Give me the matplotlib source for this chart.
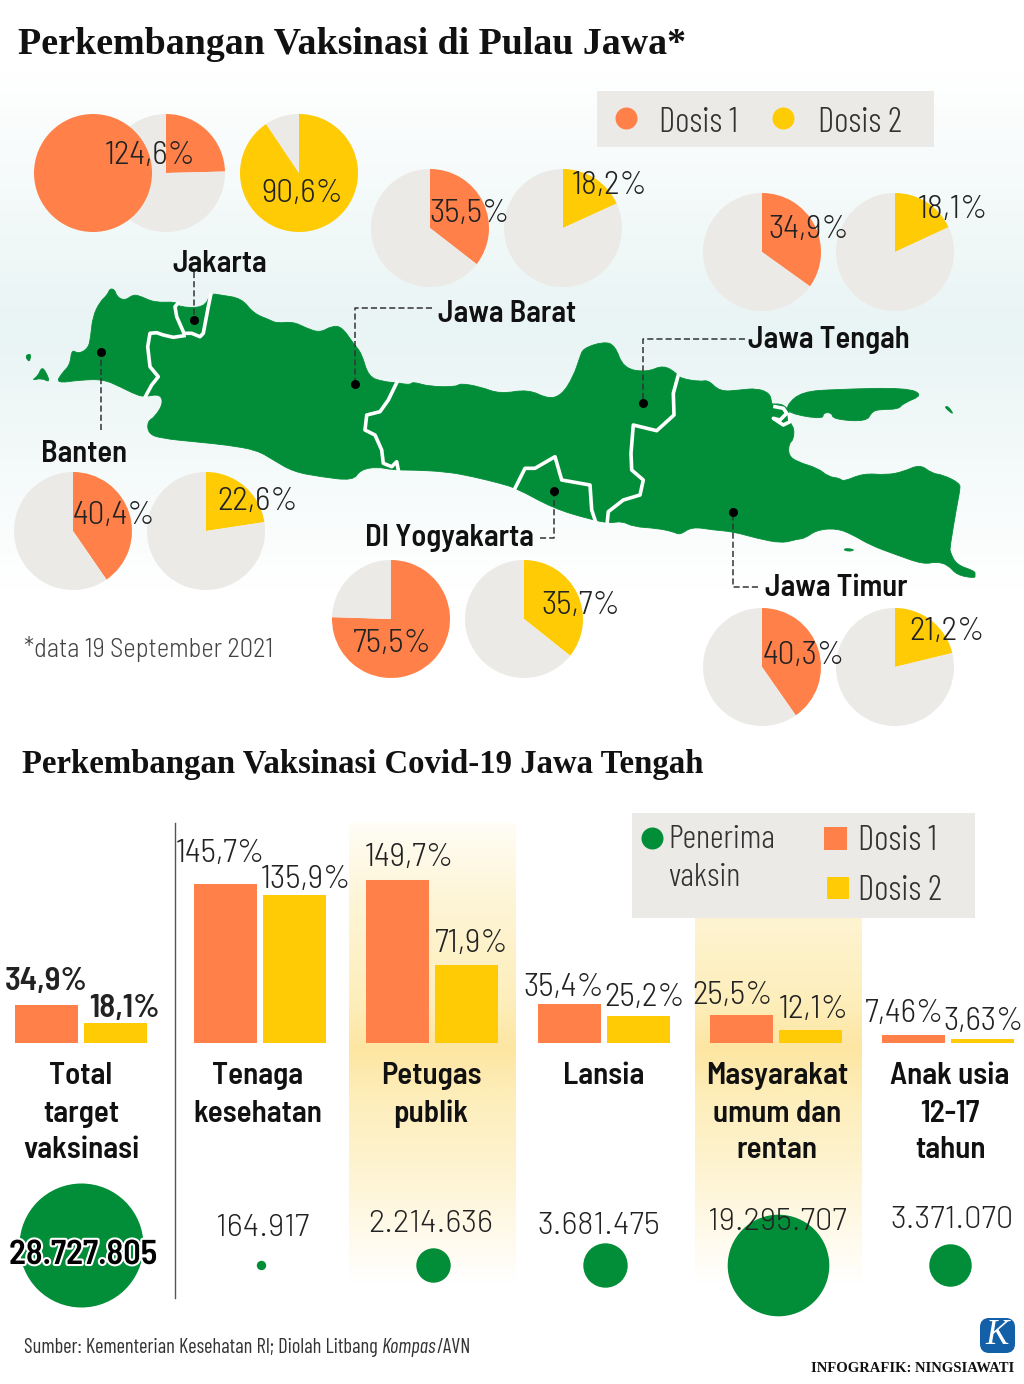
import numpy as np
import matplotlib
matplotlib.use('Agg')
import matplotlib.pyplot as plt
import matplotlib.patheffects as pe
from matplotlib.colors import LinearSegmentedColormap
from matplotlib.patches import FancyBboxPatch, PathPatch, Rectangle
from matplotlib.path import Path

W, H = 1024, 1384
ORANGE = '#ff8149'
YELLOW = '#ffcb05'
GREY = '#ebeae6'
GREEN = '#028e38'
INK = '#222222'
NARROW = ['Barlow Condensed', 'Archivo Narrow', 'Roboto', 'DejaVu Sans']
SEMI = ['Barlow Semi Condensed', 'Archivo Narrow', 'Roboto', 'DejaVu Sans']
WIDE = ['Barlow', 'Roboto', 'DejaVu Sans']
SERIF = ['Liberation Serif', 'DejaVu Serif']
LIGHT = 300
HEAVY = 600

# pie values, percent
provinces = ['Jakarta', 'Jawa Barat', 'Jawa Tengah', 'Banten', 'DI Yogyakarta', 'Jawa Timur']
dose1_pct = [124.6, 35.5, 34.9, 40.4, 75.5, 40.3]
dose2_pct = [90.6, 18.2, 18.1, 22.6, 35.7, 21.2]
pie_centers = [(166, 173), (430, 228), (762, 252), (73, 531), (391, 619), (762, 667)]
pie_gap = 133
pie_radius = 59
dose1_label_pos = [(150, 153), (470, 211), (809, 227), (114, 514), (392, 641), (804, 654)]
dose2_label_pos = [(302, 191), (610, 184), (953, 207), (258, 499), (581, 603), (947, 630)]

# bar values, percent
groups = ['Total\ntarget\nvaksinasi', 'Tenaga\nkesehatan', 'Petugas\npublik', 'Lansia',
          'Masyarakat\numum dan\nrentan', 'Anak usia\n12-17\ntahun']
bar_dose1 = [34.9, 145.7, 149.7, 35.4, 25.5, 7.46]
bar_dose2 = [18.1, 135.9, 71.9, 25.2, 12.1, 3.63]
bar_dose1_text = ['34,9%', '145,7%', '149,7%', '35,4%', '25,5%', '7,46%']
bar_dose2_text = ['18,1%', '135,9%', '71,9%', '25,2%', '12,1%', '3,63%']
recipients = [28727805, 164917, 2214636, 3681475, 19295707, 3371070]
recipients_text = ['28.727.805', '164.917', '2.214.636', '3.681.475', '19.295.707', '3.371.070']

group_left = [15, 194, 366, 538, 710, 882]
group_center = [81, 258, 431, 604, 777, 950]
bar_width = 62.5
bar_step = 69
bar_base = 1043
px_per_pct = 1.09
d1_text_pos = [(46, 979), (220, 852), (409, 855), (564, 985), (732, 993), (904, 1011)]
d2_text_pos = [(124, 1006), (306, 878), (472, 942), (645, 995), (814, 1008), (984, 1020)]
bubble_pos = [(81, 1245), (261, 1265), (433, 1265), (605, 1265), (778, 1265), (950, 1265)]
value_text_pos = [(83, 1253), (263, 1226), (431, 1222), (599, 1224), (777, 1220), (952, 1217)]
max_bubble_r = 62

# map outline, picture pixels
java_x = [56, 61.7, 70, 71.7, 78.3, 88.3, 90.7, 92.7, 100, 107.3, 110, 115, 116.7, 125, 133.3, 141.7, 155, 176.7,
          178, 204, 210.7, 220, 241.7, 253.3, 270, 276.7, 293.3, 306.7, 320, 331.7, 341.7, 353.3, 361.7, 368.3,
          383.3, 396.7, 410, 412.7, 430, 456.7, 460, 480, 500, 528.3, 548.3, 561.7, 573.3, 580, 583.3, 603.3, 615,
          623.3, 646.7, 663.3, 676.7, 680, 700, 708.3, 720, 740, 756.7, 770, 771.7, 771.7, 783, 790, 790, 794.3,
          793.3, 789, 788.3, 796.7, 818.3, 828.3, 840, 843.3, 863.3, 886.7, 903.3, 920, 931.7, 943.3, 960, 960,
          956.7, 950, 950, 956.7, 975, 975, 975, 956.7, 948.3,
          936.7, 923.3, 896.7, 870, 853.3, 836.7, 816.7, 805, 796.7, 781.7, 756.7, 733.3, 713.3, 691.7, 680,
          673.3, 656.7, 633.3, 621.7, 610, 590, 553.3, 516.7, 500, 473.3, 446.7, 413.3, 393.3, 376.7, 360, 353.3,
          320, 293.3, 273.3, 256.7, 226.7, 200, 160, 148.3, 147.3, 155, 163.3, 160, 145, 136.7, 120, 103.3, 80]
java_y = [383.3, 373.3, 365, 349.3, 354, 348.3, 336.7, 316.7, 301.7, 295, 288.3, 290, 296.7, 300.7, 294.3, 296.7,
          302.7, 301.7, 307, 308, 293.3, 295, 298.3, 313.3, 320, 323.3, 321.7, 328.3, 332.7, 326, 326.7, 343.3,
          353.3, 376.7, 381.7, 382.7, 385, 381.7, 386.7, 386.7, 383.3, 386.7, 394, 389.3, 399, 395, 376.7, 356.7,
          348.3, 341.7, 345, 368.3, 372.3, 365, 373.3, 378.3, 381.7, 380, 391.7, 390, 388.3, 393.3, 403.3, 404,
          404, 412, 423.3, 428.3, 440, 443.3, 455, 461.7, 468.3, 476.7, 478.3, 481.7, 473.3, 475, 471.7, 464.3,
          473.3, 475, 483.3, 490, 506.7, 546.7, 552, 565, 571, 575, 578.3, 575, 565, 561.7, 564.3, 555, 545, 535,
          528.3, 530, 538.3, 539.3, 543.3, 538.3, 531.7, 530, 526.7, 535,
          531.7, 528.3, 526.7, 521, 523.3, 519.3, 508.3, 488.3, 483.3, 476.7, 471.7, 470, 470, 466.7, 470, 480.7,
          476.7, 471.7, 460, 450, 445, 442.3, 438.3, 433.3, 421.7, 416.7, 403.3, 394, 396.7, 395, 386.7, 379.3, 380]
madura_x = [786.7, 801.7, 836.7, 906.7, 923.3, 903.3, 898.3, 880, 871.7, 866.7, 833.3, 831.7, 823.3, 822.7, 788.3]
madura_y = [405, 391.7, 389.3, 387.7, 395, 403.3, 409.3, 409.3, 411.7, 421.7, 419.3, 412.7, 412.7, 419.3, 413.3]
islets = [([25, 30.5, 30.5, 29], [356, 353.5, 358, 362]),
          ([31.5, 38, 41.7, 46, 50, 41.7], [380.5, 376, 367, 372, 382.5, 378]),
          ([944.5, 948, 953.5, 950], [407, 406, 414, 412]),
          ([844, 853, 853.5, 845], [548.5, 549, 551, 551])]
borders = [([178, 175, 176.7, 184, 191.7, 200, 203.3, 208.3, 210.7], [303.3, 306.7, 316.7, 333.3, 333.3, 336.7, 333.3, 306.7, 295]),
           ([184, 173.3, 163.3, 156.7, 150, 147.7, 150, 158.3, 151.7, 145.7], [335.7, 337.3, 335, 332.7, 333.3, 346.7, 366.7, 376.7, 385, 396]),
           ([396.7, 388.3, 380, 366.7, 365, 375, 381.7, 383.3, 391.7, 396.7, 398.3], [382.7, 400, 411.7, 415, 430, 435, 450, 463.3, 466.7, 461.7, 470]),
           ([678.3, 673.3, 674, 656.7, 633.3, 631, 631.7, 643.3, 640, 623.3, 608.3, 607.3], [375, 393.3, 415, 430.7, 425, 453.3, 470, 480, 495, 500, 511.7, 521.7]),
           ([515, 525, 535, 555, 561.7, 590, 591.7, 595], [488.3, 468.3, 468.3, 456.7, 480, 485, 510, 520]),
           ([775, 783.3, 786.7, 780, 773.3, 783.3, 790, 789.3], [406.7, 408.3, 413.3, 420, 418.3, 425, 421.7, 415])]

# leader lines: label end -> dot
leaders = [([194, 194], [272, 320]),
           ([101, 101], [430, 352]),
           ([432, 354.5, 354.5], [308, 308, 384]),
           ([745, 643, 643], [339, 339, 403]),
           ([540, 554, 554], [538, 538, 491]),
           ([758, 733, 733], [587, 587, 512])]
region_labels = [('Jakarta', 220, 261), ('Banten', 84, 452), ('Jawa Barat', 507, 311), ('Jawa Tengah', 829, 338),
                 ('DI Yogyakarta', 449, 536), ('Jawa Timur', 836, 585)]


def px_axes(fig, x0, y0, x1, y1, zorder=1):
    ax = fig.add_axes([x0 / W, 1 - y1 / H, (x1 - x0) / W, (y1 - y0) / H], zorder=zorder)
    ax.axis('off')
    return ax


def draw_pie(fig, cx, cy, pct, color):
    ax = px_axes(fig, cx - pie_radius, cy - pie_radius, cx + pie_radius, cy + pie_radius, zorder=2)
    ax.pie([pct, 100 - pct], colors=[color, GREY], startangle=90, counterclock=False, radius=1)
    ax.set_xlim(-1, 1)
    ax.set_ylim(-1, 1)


def put(ax, x, y, s, px, weight=LIGHT, color=INK, family=SEMI, ha='center', style='normal', **kw):
    # the Barlow cuts sit a little high against the reference
    dy = 0 if family is SERIF else 2.5
    return ax.text(x, y + dy, s, fontsize=px * 0.72, fontweight=weight, color=color, family=family,
                   ha=ha, va='center', fontstyle=style, **kw)


def vgrad(ax, stops, x0, x1, y0, y1, name):
    cmap = LinearSegmentedColormap.from_list(name, stops)
    grad = np.linspace(0, 1, 256).reshape(-1, 1)
    ax.imshow(grad, cmap=cmap, extent=(x0, x1, y1, y0), aspect='auto', zorder=0, vmin=0, vmax=1)


def smooth_patch(xs, ys):
    # closed outline, rounded off through the segment midpoints
    pts = np.column_stack([xs, ys])
    mids = (pts + np.roll(pts, -1, axis=0)) / 2
    verts = [mids[-1]]
    codes = [Path.MOVETO]
    for p, m in zip(pts, mids):
        verts += [p, m]
        codes += [Path.CURVE3, Path.CURVE3]
    return PathPatch(Path(verts, codes), fc=GREEN, ec=GREEN, lw=0.6, zorder=1)


fig = plt.figure(figsize=(W / 100, H / 100), dpi=100, facecolor='white')

# backdrop: gradients and map
back = px_axes(fig, 0, 0, W, H, zorder=0)
vgrad(back, [(0, '#ffffff'), (0.5, '#e9f4f4'), (1, '#ffffff')], 0, W, 70, 590, 'sky')
col_stops = [(0, '#fffdf5'), (0.17, '#fef5d6'), (0.385, '#fdeebb'), (0.487, '#fde6a2'), (0.6, '#fdeebb'),
             (0.74, '#fef3cf'), (0.92, '#fffbf0'), (1, '#ffffff')]
vgrad(back, col_stops, 349, 516, 823, 1285, 'col1')
vgrad(back, col_stops, 695, 862, 823, 1285, 'col2')
back.add_patch(smooth_patch(java_x, java_y))
back.add_patch(smooth_patch(madura_x, madura_y))
for xs, ys in islets:
    back.add_patch(smooth_patch(xs, ys))
for xs, ys in borders:
    back.plot(xs, ys, color='white', lw=2.6, solid_joinstyle='round', zorder=2)
back.set_xlim(0, W)
back.set_ylim(H, 0)

# pies
for (cx, cy), d1, d2 in zip(pie_centers, dose1_pct, dose2_pct):
    draw_pie(fig, cx, cy, d1 - 100 if d1 > 100 else d1, ORANGE)
    draw_pie(fig, cx + pie_gap, cy, d2, YELLOW)
# dose 1 above 100 percent: one extra full disc next to the pie
over = px_axes(fig, 93 - pie_radius, 173 - pie_radius, 93 + pie_radius, 173 + pie_radius, zorder=3)
over.pie([100], colors=[ORANGE], radius=1)
over.set_xlim(-1, 1)
over.set_ylim(-1, 1)

# bars
bars = px_axes(fig, 0, bar_base - 200, W, bar_base, zorder=2)
bars.bar(np.array(group_left), bar_dose1, width=bar_width, align='edge', color=ORANGE)
bars.bar(np.array(group_left) + bar_step, bar_dose2, width=bar_width, align='edge', color=YELLOW)
bars.set_xlim(0, W)
bars.set_ylim(0, 200 / px_per_pct)

# overlay: legends, bubbles, text
top = px_axes(fig, 0, 0, W, H, zorder=5)
top.set_xlim(0, W)
top.set_ylim(H, 0)
top.patch.set_alpha(0)

put(top, 18, 44, 'Perkembangan Vaksinasi di Pulau Jawa*', 37.9, 'bold', '#111111', SERIF, 'left')
put(top, 22, 764, 'Perkembangan Vaksinasi Covid-19 Jawa Tengah', 32.8, 'bold', '#111111', SERIF, 'left')

# top legend
top.add_patch(Rectangle((597, 91), 337, 56, color=GREY, lw=0))
top.scatter([626], [118], s=(22 * 0.72) ** 2, color=ORANGE, lw=0)
top.scatter([783], [118], s=(22 * 0.72) ** 2, color=YELLOW, lw=0)
put(top, 659, 120, 'Dosis 1', 35, ha='left', color='#333333', family=NARROW)
put(top, 818, 120, 'Dosis 2', 35, ha='left', color='#333333', family=NARROW)

# lower legend
top.add_patch(Rectangle((632, 813), 343, 105, color=GREY, lw=0))
top.scatter([652], [838], s=(22 * 0.72) ** 2, color=GREEN, lw=0)
put(top, 668, 838, 'Penerima', 33.5, ha='left', color='#333333', family=NARROW)
put(top, 668, 875, 'vaksin', 33.5, ha='left', color='#333333', family=NARROW)
top.add_patch(Rectangle((824, 827), 23, 23, color=ORANGE, lw=0))
top.add_patch(Rectangle((827, 877), 22, 22, color=YELLOW, lw=0))
put(top, 858, 838, 'Dosis 1', 35, ha='left', color='#333333', family=NARROW)
put(top, 858, 888, 'Dosis 2', 35, ha='left', color='#333333', family=NARROW)

# leader lines and region names
for xs, ys in leaders:
    top.plot(xs, ys, color='#333333', lw=1.1, dashes=(4, 2))
    top.scatter([xs[-1]], [ys[-1]], s=42, color='black', lw=0, zorder=3)
for name, x, y in region_labels:
    put(top, x, y, name, 30.5, HEAVY, '#111111')

# pie labels
for pct, (x, y) in zip(dose1_pct, dose1_label_pos):
    put(top, x, y, f'{pct:.1f}%'.replace('.', ','), 33.5)
for pct, (x, y) in zip(dose2_pct, dose2_label_pos):
    put(top, x, y, f'{pct:.1f}%'.replace('.', ','), 33.5)
put(top, 24, 647, '*data 19 September 2021', 26.6, ha='left', color='#444444')

# group divider
top.plot([175, 175], [823, 1298], color='#555555', lw=1)

# bar labels and group names
for i, name in enumerate(groups):
    weight = HEAVY if i == 0 else LIGHT
    size = 33 if i == 0 else 33.5
    put(top, d1_text_pos[i][0], d1_text_pos[i][1], bar_dose1_text[i], size, weight)
    put(top, d2_text_pos[i][0], d2_text_pos[i][1], bar_dose2_text[i], size, weight)
    for j, line in enumerate(name.split('\n')):
        put(top, group_center[i], 1074 + 37 * j, line, 31, HEAVY, '#111111')

# recipient bubbles, area follows the count
for i, v in enumerate(recipients):
    r = max_bubble_r * np.sqrt(v / recipients[0])
    top.scatter([bubble_pos[i][0]], [bubble_pos[i][1]], s=(2 * r * 0.72) ** 2, color=GREEN, lw=0)
    x, y = value_text_pos[i]
    if i == 0:
        t = put(top, x, y, recipients_text[i], 34.5, HEAVY, 'black', zorder=4)
        t.set_path_effects([pe.withStroke(linewidth=3, foreground='white')])
    else:
        put(top, x, y, recipients_text[i], 31, family=WIDE, zorder=4)

# footer
fig.canvas.draw()
rend = fig.canvas.get_renderer()
inv = top.transData.inverted()
x = 24
for part, st in [('Sumber: Kementerian Kesehatan RI; Diolah Litbang ', 'normal'), ('Kompas', 'italic'), ('/AVN', 'normal')]:
    t = put(top, x, 1345, part, 20.5, weight=400, ha='left', color='#333333', style=st, family=NARROW)
    x = inv.transform(t.get_window_extent(rend).get_points())[1][0]
put(top, 1014, 1368, 'INFOGRAFIK: NINGSIAWATI', 14.6, 'bold', '#111111', SERIF, 'right')
top.add_patch(FancyBboxPatch((984, 1322), 27, 27, boxstyle='round,pad=0,rounding_size=5', mutation_aspect=1,
                             fc='#1360a8', ec='#1360a8', lw=8 * 0.72))
put(top, 997, 1335, 'K', 35, 'normal', 'white', SERIF, style='italic')

fig.savefig('out.png', dpi=100)
